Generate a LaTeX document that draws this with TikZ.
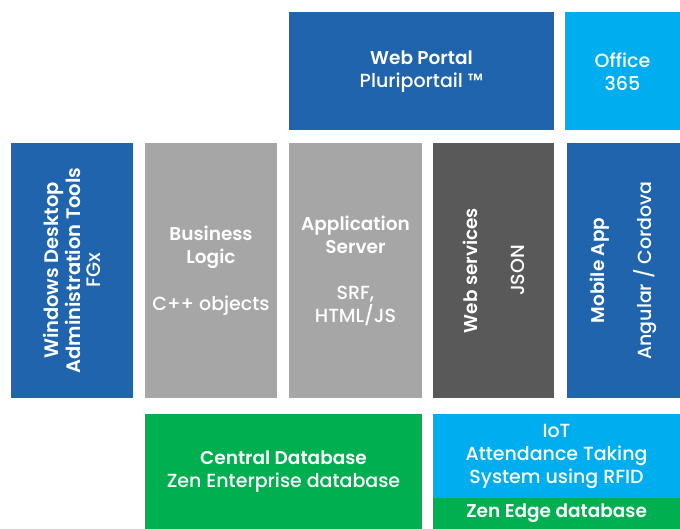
\documentclass[tikz,border=0pt]{standalone}
\usepackage{fontspec}
\setmainfont{Poppins}[UprightFont={* Medium}, BoldFont={* SemiBold}]
\definecolor{dblue}{HTML}{1F64AD}
\definecolor{lblue}{HTML}{00AEEF}
\definecolor{lgray}{HTML}{A6A6A6}
\definecolor{dgray}{HTML}{595959}
\definecolor{zgreen}{HTML}{00B050}
\newcommand{\tb}[1]{{\fontsize{18.5}{23}\selectfont\bfseries #1}}
\begin{document}
\begin{tikzpicture}[x=1pt,y=-1pt,
  box/.style={draw=none, inner sep=0pt, outer sep=0pt, text=white, align=center,
    font=\fontsize{19}{23}\selectfont},
  vbox/.style={box, rotate=90}]
\useasboundingbox[fill=white] (0,0) rectangle (680,529);
% top row
\node[box, fill=dblue, minimum width=265pt, minimum height=118pt] (wp) at (421.5,71.5)
  {\tb{Web Portal}\\Pluriportail ™};
\node[box, fill=lblue, minimum width=115pt, minimum height=118pt] (off) at (622.5,71.5)
  {Office\\365};
% middle row
\node[vbox, fill=dblue, minimum width=255pt, minimum height=122pt,
  font=\fontsize{19.5}{20}\selectfont] (win) at (72,270.5)
  {{\bfseries Windows Desktop}\\{\bfseries Administration Tools}\\FGx};
\node[box, fill=lgray, minimum width=132pt, minimum height=255pt] (bl) at (211,270.5)
  {\tb{Business}\\\tb{Logic}\\[24pt]C++ objects};
\node[box, fill=lgray, minimum width=133pt, minimum height=255pt] (as) at (355.5,270.5)
  {\tb{Application}\\\tb{Server}\\[23pt]SRF,\\HTML/JS};
\node[vbox, fill=dgray, minimum width=255pt, minimum height=121pt] (ws) at (493.5,270.5)
  {\tb{Web services}\\[24pt]JSON};
\node[vbox, fill=dblue, minimum width=255pt, minimum height=113pt] (mob) at (623.5,270.5)
  {\tb{Mobile App}\\[24pt]Angular / Cordova};
% bottom row
\node[box, fill=zgreen, minimum width=277pt, minimum height=115pt] (cdb) at (283.5,471.5)
  {\tb{Central Database}\\Zen Enterprise database};
\node[box, fill=lblue, minimum width=247pt, minimum height=84pt] (iot) at (556.5,456)
  {IoT\\Attendance Taking\\System using RFID};
\node[box, fill=zgreen, minimum width=247pt, minimum height=31pt] (zen) at (556.5,513.5)
  {\tb{Zen Edge database}};
\end{tikzpicture}
\end{document}
